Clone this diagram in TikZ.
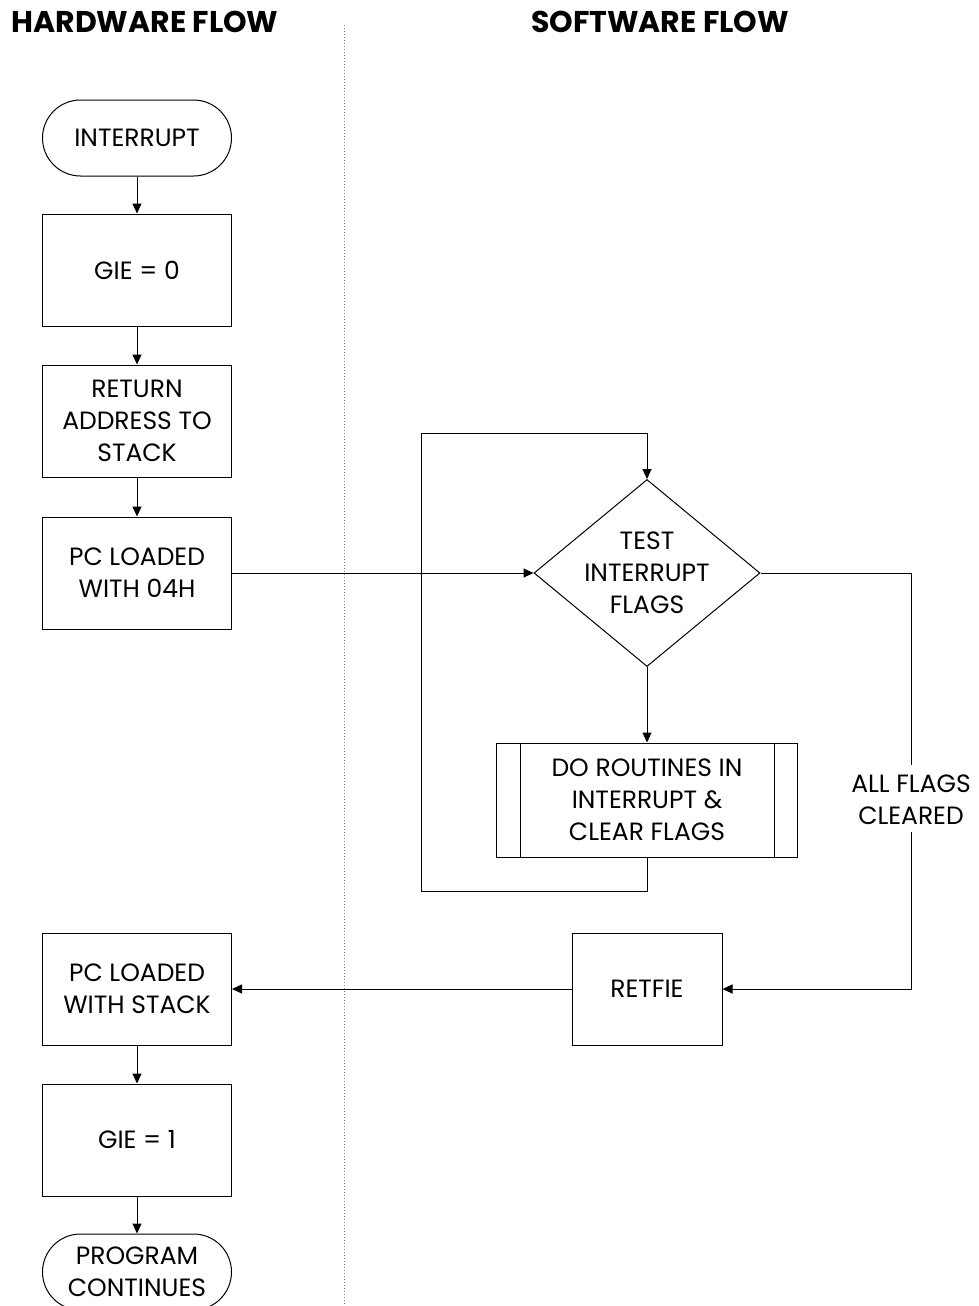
\documentclass[tikz,border=0pt]{standalone}
\usepackage{fontspec}
\setmainfont{Poppins}
\usetikzlibrary{shapes.geometric,arrows.meta}
\begin{document}
\begin{tikzpicture}[x=1pt,y=-1pt,
  every node/.style={font=\fontsize{25}{32}\selectfont},
  box/.style={draw, line width=1pt, minimum width=189pt, minimum height=112pt, inner sep=0pt, align=center},
  term/.style={draw, line width=1pt, rounded corners=38pt, minimum width=189pt, minimum height=76pt, inner sep=0pt, align=center},
  dec/.style={draw, line width=1pt, diamond, minimum width=226pt, minimum height=187pt, inner sep=0pt},
  title/.style={font=\fontsize{30}{34}\selectfont\bfseries},
  conn/.style={line width=1pt},
  arr/.style={conn, -{Triangle[length=10pt,width=9pt]}},
  divider/.style={dotted, line width=1pt, gray}
]
\useasboundingbox (0,0) rectangle (979,1306);
\node[title] (thw) at (145,22) {HARDWARE FLOW};
\node[title] (tsw) at (660,22) {SOFTWARE FLOW};
\coordinate (dtop) at (344,25);
\coordinate (dbot) at (344,1306);
\draw[divider] (dtop) -- (dbot);

\node[term] (int) at (137,138) {INTERRUPT};
\node[box] (gie0) at (137,270) {GIE = 0};
\node[box] (ret) at (137,421) {RETURN\\ADDRESS TO\\STACK};
\node[box] (pc04) at (137,573) {PC LOADED\\WITH 04H};
\node[box] (pcst) at (137,989) {PC LOADED\\WITH STACK};
\node[box] (gie1) at (137,1140) {GIE = 1};
\node[term] (prog) at (137,1272) {PROGRAM\\CONTINUES};

\node[dec] (dia) at (647,573) {};
\node[align=center] (diat) at (647,573) {TEST\\INTERRUPT\\FLAGS};
\node[box, minimum width=301pt, minimum height=114pt] (sub) at (647,800) {DO ROUTINES IN\\INTERRUPT \&\\CLEAR FLAGS};
\draw[conn] ([xshift=24pt]sub.north west) -- ([xshift=24pt]sub.south west);
\draw[conn] ([xshift=-24pt]sub.north east) -- ([xshift=-24pt]sub.south east);
\node[box, minimum width=150pt] (retfie) at (647,989) {RETFIE};
\node[align=center, inner sep=0pt] (lbl) at (911,800) {ALL FLAGS\\CLEARED};

\draw[arr] (int) -- (gie0);
\draw[arr] (gie0) -- (ret);
\draw[arr] (ret) -- (pc04);
\draw[arr] (pc04) -- (dia.west);
\draw[arr] (dia) -- (sub);
\coordinate (lb) at (421,891);
\coordinate (lt) at (421,433);
\draw[arr] (sub.south) |- (lb) -- (lt) -| (dia.north);
\coordinate (rt) at (911,573);
\coordinate (la) at (911,765);
\coordinate (lz) at (911,832);
\draw[conn] (dia.east) -- (rt) -- (la);
\draw[arr] (lz) |- (retfie.east);
\draw[arr] (retfie) -- (pcst);
\draw[arr] (pcst) -- (gie1);
\draw[arr] (gie1) -- (prog);
\end{tikzpicture}
\end{document}
